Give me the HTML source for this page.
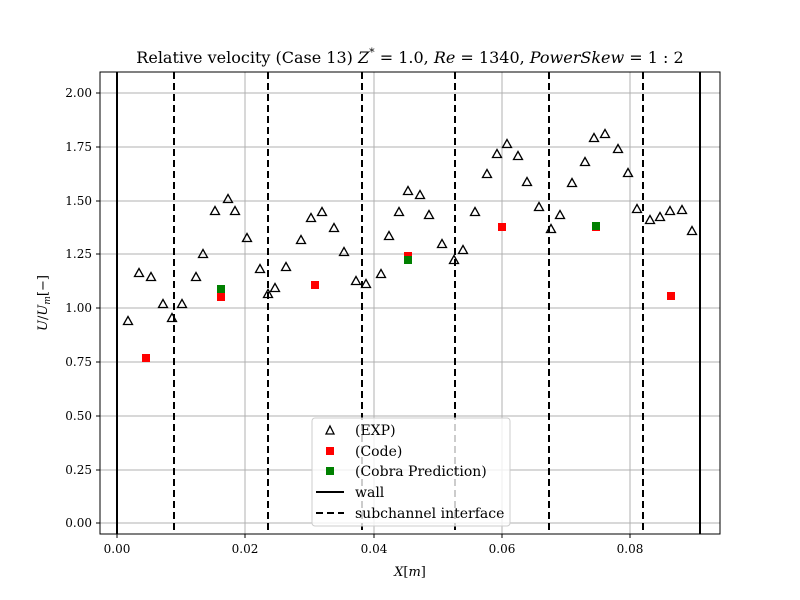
<!DOCTYPE html>
<html><head><meta charset="utf-8"><style>body{margin:0;background:#fff}svg{display:block}</style></head><body>
<svg width="800" height="600" xmlns="http://www.w3.org/2000/svg" font-family="DejaVu Serif, Liberation Serif, serif">
<rect width="800" height="600" fill="#fff"/>
<g stroke="#b0b0b0" stroke-width="1">
<line x1="117" y1="72" x2="117" y2="534"/><line x1="245" y1="72" x2="245" y2="534"/><line x1="374" y1="72" x2="374" y2="534"/><line x1="502" y1="72" x2="502" y2="534"/><line x1="630" y1="72" x2="630" y2="534"/>
<line x1="100" y1="93" x2="720" y2="93"/><line x1="100" y1="147" x2="720" y2="147"/><line x1="100" y1="201" x2="720" y2="201"/><line x1="100" y1="254" x2="720" y2="254"/><line x1="100" y1="308" x2="720" y2="308"/><line x1="100" y1="362" x2="720" y2="362"/><line x1="100" y1="416" x2="720" y2="416"/><line x1="100" y1="470" x2="720" y2="470"/><line x1="100" y1="523" x2="720" y2="523"/>
</g>
<g stroke="#000" stroke-width="2">
<line x1="117" y1="72" x2="117" y2="534"/><line x1="700" y1="72" x2="700" y2="534"/>
<g stroke-dasharray="7,4"><line x1="174" y1="72" x2="174" y2="534"/><line x1="268" y1="72" x2="268" y2="534"/><line x1="362" y1="72" x2="362" y2="534"/><line x1="455" y1="72" x2="455" y2="534"/><line x1="549" y1="72" x2="549" y2="534"/><line x1="643" y1="72" x2="643" y2="534"/></g>
</g>
<path fill="none" stroke="#000" stroke-width="1.3" d="
M128,316.5l4.5,8h-9z M139,268.5l4.5,8h-9z M151,272.5l4.5,8h-9z M163,299.5l4.5,8h-9z M172,313.5l4.5,8h-9z
M182,299.5l4.5,8h-9z M196,272.5l4.5,8h-9z M203,249.5l4.5,8h-9z M215,206.5l4.5,8h-9z M228,194.5l4.5,8h-9z
M235,206.5l4.5,8h-9z M247,233.5l4.5,8h-9z M260,264.5l4.5,8h-9z M268,289.5l4.5,8h-9z M275,283.5l4.5,8h-9z
M286,262.5l4.5,8h-9z M301,235.5l4.5,8h-9z M311,213.5l4.5,8h-9z M322,207.5l4.5,8h-9z M334,223.5l4.5,8h-9z
M344,247.5l4.5,8h-9z M356,276.5l4.5,8h-9z M366,279.5l4.5,8h-9z M381,269.5l4.5,8h-9z M389,231.5l4.5,8h-9z
M399,207.5l4.5,8h-9z M408,186.5l4.5,8h-9z M420,190.5l4.5,8h-9z M429,210.5l4.5,8h-9z M442,239.5l4.5,8h-9z
M454,255.5l4.5,8h-9z M463,245.5l4.5,8h-9z M475,207.5l4.5,8h-9z M487,169.5l4.5,8h-9z M497,149.5l4.5,8h-9z
M507,139.5l4.5,8h-9z M518,151.5l4.5,8h-9z M527,177.5l4.5,8h-9z M539,202.5l4.5,8h-9z M551,224.5l4.5,8h-9z
M560,210.5l4.5,8h-9z M572,178.5l4.5,8h-9z M585,157.5l4.5,8h-9z M594,133.5l4.5,8h-9z M605,129.5l4.5,8h-9z
M618,144.5l4.5,8h-9z M628,168.5l4.5,8h-9z M637,204.5l4.5,8h-9z M650,215.5l4.5,8h-9z M660,212.5l4.5,8h-9z
M670,206.5l4.5,8h-9z M682,205.5l4.5,8h-9z M692,226.5l4.5,8h-9z"/>
<g fill="#f00">
<rect x="142" y="354" width="8" height="8"/><rect x="217" y="293" width="8" height="8"/><rect x="311" y="281" width="8" height="8"/><rect x="404" y="252" width="8" height="8"/><rect x="498" y="223" width="8" height="8"/><rect x="592" y="223" width="8" height="8"/><rect x="667" y="292" width="8" height="8"/>
</g>
<g fill="#008000">
<rect x="217" y="285" width="8" height="8"/><rect x="404" y="256" width="8" height="8"/><rect x="592" y="222" width="8" height="8"/>
</g>
<rect x="100" y="72" width="620" height="462" fill="none" stroke="#000" stroke-width="1"/>
<g stroke="#000"><line x1="117" y1="534" x2="117" y2="538"/><line x1="245" y1="534" x2="245" y2="538"/><line x1="374" y1="534" x2="374" y2="538"/><line x1="502" y1="534" x2="502" y2="538"/><line x1="630" y1="534" x2="630" y2="538"/>
<line x1="96" y1="93" x2="100" y2="93"/><line x1="96" y1="147" x2="100" y2="147"/><line x1="96" y1="201" x2="100" y2="201"/><line x1="96" y1="254" x2="100" y2="254"/><line x1="96" y1="308" x2="100" y2="308"/><line x1="96" y1="362" x2="100" y2="362"/><line x1="96" y1="416" x2="100" y2="416"/><line x1="96" y1="470" x2="100" y2="470"/><line x1="96" y1="523" x2="100" y2="523"/></g>
<g font-size="12" text-anchor="middle" fill="#000">
<text x="117" y="553">0.00</text><text x="245" y="553">0.02</text><text x="374" y="553">0.04</text><text x="502" y="553">0.06</text><text x="630" y="553">0.08</text>
</g>
<g font-size="12" text-anchor="end" fill="#000">
<text x="92" y="97">2.00</text><text x="92" y="151">1.75</text><text x="92" y="205">1.50</text><text x="92" y="258">1.25</text><text x="92" y="312">1.00</text><text x="92" y="366">0.75</text><text x="92" y="420">0.50</text><text x="92" y="474">0.25</text><text x="92" y="527">0.00</text>
</g>
<text x="410" y="63" font-size="16" text-anchor="middle">Relative velocity (Case 13) <tspan font-style="italic">Z</tspan><tspan font-size="11" dy="-7">*</tspan><tspan dy="7"> = 1.0, </tspan><tspan font-style="italic">Re</tspan> = 1340, <tspan font-style="italic">PowerSkew</tspan> = 1 : 2</text>
<text x="410" y="576" font-size="13" text-anchor="middle"><tspan font-style="italic">X</tspan>[<tspan font-style="italic">m</tspan>]</text>
<text transform="translate(47,303) rotate(-90)" font-size="13" text-anchor="middle"><tspan font-style="italic">U</tspan>/<tspan font-style="italic">U</tspan><tspan font-size="9" font-style="italic" dy="3">m</tspan><tspan dy="-3">[−]</tspan></text>
<rect x="312" y="418" width="198" height="108" rx="3" fill="#fff" fill-opacity="0.8" stroke="#ccc"/>
<path d="M330,426 L334,434 L326,434 Z" fill="none" stroke="#000" stroke-width="1.3"/>
<rect x="326" y="447" width="8" height="8" fill="#f00"/>
<rect x="326" y="467" width="8" height="8" fill="#008000"/>
<line x1="316" y1="492" x2="344" y2="492" stroke="#000" stroke-width="2"/>
<line x1="316" y1="513" x2="344" y2="513" stroke="#000" stroke-width="2" stroke-dasharray="7,4"/>
<g font-size="14" fill="#000">
<text x="355" y="435">(EXP)</text><text x="355" y="456">(Code)</text><text x="355" y="476">(Cobra Prediction)</text><text x="355" y="497">wall</text><text x="355" y="518">subchannel interface</text>
</g>
</svg>
</body></html>
